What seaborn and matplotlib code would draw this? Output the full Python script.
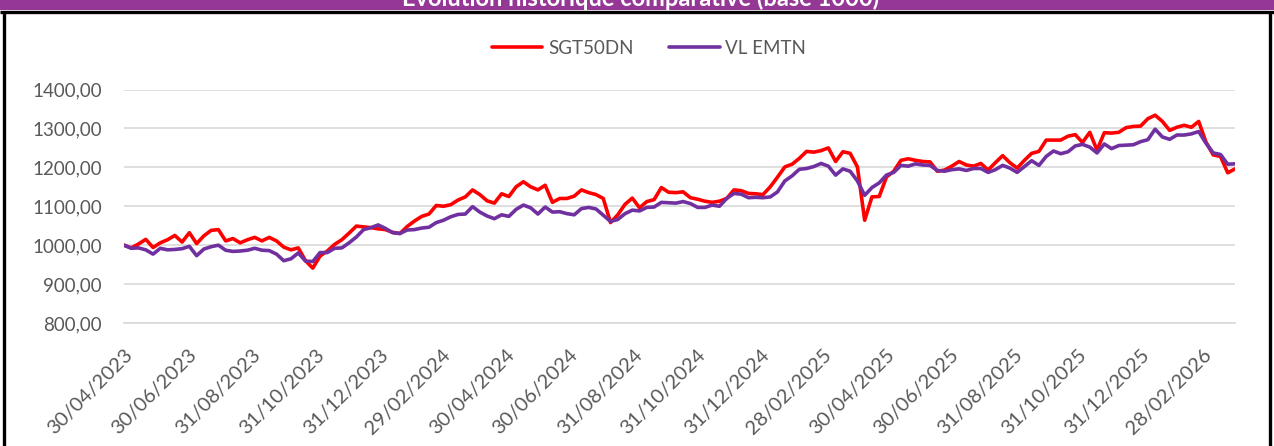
import numpy as np
import pandas as pd
import matplotlib
matplotlib.use("Agg")
import matplotlib.pyplot as plt
import matplotlib.dates as mdates
from matplotlib.ticker import FuncFormatter, MultipleLocator
from matplotlib.lines import Line2D
from matplotlib.patches import Rectangle
from matplotlib.transforms import ScaledTranslation
import seaborn as sns

# Weekly observations, base 1000 on 30/04/2023, last point 31/03/2026
start_date = "2023-04-30"
end_date = "2026-03-31"

sgt50dn = [
    1000, 993, 1003, 1015, 994, 1006, 1014, 1025, 1008, 1032,
    1004, 1024, 1038, 1040, 1011, 1017, 1006, 1014, 1020, 1011,
    1020, 1011, 995, 988, 993, 960, 941, 972, 985, 1002,
    1014, 1031, 1049, 1047, 1045, 1042, 1040, 1033, 1030, 1048,
    1062, 1074, 1080, 1102, 1100, 1104, 1116, 1124, 1142, 1130,
    1114, 1108, 1132, 1125, 1150, 1163, 1150, 1142, 1154, 1110,
    1120, 1120, 1126, 1142, 1135, 1130, 1120, 1058, 1078, 1105,
    1121, 1096, 1112, 1117, 1148, 1136, 1135, 1137, 1122, 1118,
    1113, 1110, 1113, 1120, 1142, 1140, 1133, 1132, 1130, 1150,
    1175, 1201, 1208, 1223, 1241, 1239, 1243, 1250, 1215, 1240,
    1236, 1201, 1064, 1124, 1125, 1175, 1190, 1218, 1222, 1218,
    1215, 1214, 1190, 1193, 1203, 1215, 1206, 1203, 1210, 1193,
    1212, 1230, 1212, 1198, 1218, 1236, 1241, 1270, 1270, 1270,
    1280, 1284, 1264, 1290, 1244, 1289, 1288, 1290, 1302, 1305,
    1306, 1325, 1334, 1318, 1295, 1303, 1308, 1303, 1318, 1265,
    1232, 1228, 1186, 1196,
]

vl_emtn = [
    1000, 992, 993, 988, 977, 992, 988, 989, 991, 997,
    973, 990, 996, 1000, 987, 984, 985, 987, 992, 987,
    986, 977, 960, 965, 980, 959, 958, 981, 981, 992,
    993, 1006, 1021, 1040, 1045, 1052, 1043, 1032, 1030, 1039,
    1040, 1044, 1046, 1058, 1064, 1073, 1079, 1080, 1099, 1085,
    1075, 1068, 1078, 1074, 1092, 1103, 1096, 1080, 1098, 1085,
    1086, 1081, 1078, 1094, 1097, 1093, 1077, 1061, 1066, 1081,
    1090, 1088, 1097, 1098, 1110, 1109, 1108, 1112, 1107, 1097,
    1097, 1103, 1100, 1120, 1133, 1131, 1122, 1123, 1122, 1124,
    1137, 1165, 1178, 1195, 1197, 1202, 1210, 1203, 1180, 1196,
    1190, 1165, 1128, 1148, 1160, 1180, 1187, 1205, 1203, 1209,
    1206, 1205, 1192, 1190, 1194, 1196, 1192, 1197, 1197, 1187,
    1194, 1205, 1198, 1187, 1202, 1217, 1205, 1228, 1242, 1235,
    1240, 1255, 1259, 1252, 1237, 1260, 1248, 1256, 1257, 1258,
    1266, 1271, 1298, 1278, 1272, 1283, 1283, 1286, 1292, 1262,
    1237, 1233, 1208, 1209,
]

series_names = ["SGT50DN", "VL EMTN"]
series_colors = ["#FF0000", "#7030A0"]

tick_dates = [
    "2023-04-30", "2023-06-30", "2023-08-31", "2023-10-31", "2023-12-31",
    "2024-02-29", "2024-04-30", "2024-06-30", "2024-08-31", "2024-10-31",
    "2024-12-31", "2025-02-28", "2025-04-30", "2025-06-30", "2025-08-31",
    "2025-10-31", "2025-12-31", "2026-02-28",
]

title = "Evolution historique comparative (base 1000)"

dates = pd.date_range(start_date, end_date, periods=len(sgt50dn))
df = pd.DataFrame({
    "Date": np.concatenate([dates, dates]),
    "Valeur": sgt50dn + vl_emtn,
    "Série": np.repeat(series_names, len(dates)),
})

sns.set_theme(style="white")
plt.rcParams["font.family"] = ["Lato", "DejaVu Sans"]

W, H = 1274, 446
TXT = "#595959"
GRID = "#D9D9D9"
FS = 13.5
LW = 2.6

fig = plt.figure(figsize=(W / 100, H / 100), dpi=100)
fig.patch.set_facecolor("white")

ax = fig.add_axes([124 / W, 1 - 323 / H, (1235 - 124) / W, (323 - 89.5) / H])
sns.lineplot(
    data=df, x="Date", y="Valeur", hue="Série",
    palette=dict(zip(series_names, series_colors)),
    linewidth=LW, ax=ax, legend=False,
)

ax.set_xlim(dates[0], dates[-1])
ax.set_ylim(800, 1400)
ax.set_xlabel("")
ax.set_ylabel("")

ax.yaxis.set_major_locator(MultipleLocator(100))
ax.yaxis.set_major_formatter(FuncFormatter(lambda v, p: f"{v:.2f}".replace(".", ",")))
ax.grid(axis="y", color=GRID, linewidth=1.2)
ax.set_axisbelow(True)

ax.set_xticks(pd.to_datetime(tick_dates))
ax.xaxis.set_major_formatter(mdates.DateFormatter("%d/%m/%Y"))

for side in ["left", "top", "right"]:
    ax.spines[side].set_visible(False)
ax.spines["bottom"].set_color(GRID)
ax.spines["bottom"].set_linewidth(1.2)

ax.tick_params(axis="y", length=0, pad=16, labelsize=FS, labelcolor=TXT)
ax.tick_params(axis="x", direction="out", length=5, width=1.1, color=GRID,
               pad=16, labelsize=14.5, labelcolor=TXT)

shift = ScaledTranslation(6 / 100, 0, fig.dpi_scale_trans)
for lbl in ax.get_xticklabels():
    lbl.set_rotation(45)
    lbl.set_ha("right")
    lbl.set_va("center")
    lbl.set_rotation_mode("anchor")
    lbl.set_transform(lbl.get_transform() + shift)

handles = [Line2D([], [], color=c, linewidth=LW) for c in series_colors]
fig.legend(
    handles, series_names, loc="center", bbox_to_anchor=(649 / W, 1 - 48 / H),
    ncol=2, frameon=False, handlelength=2.7, handletextpad=0.3,
    columnspacing=1.9, fontsize=FS, labelcolor=TXT,
)

# Header band with the chart title and the black frame below it
fig.add_artist(Rectangle((0, 1 - 10 / H), 1, 10 / H, transform=fig.transFigure,
                         facecolor="#953795", edgecolor="none", zorder=0))
fig.text(641 / W, 1 - 6.5 / H, title, ha="center", va="baseline", color="white",
         fontweight="bold", fontsize=17)
frame_kw = dict(transform=fig.transFigure, color="black", linewidth=2.4,
                solid_capstyle="butt")
fig.add_artist(Line2D([0, 1], [1 - 11.5 / H] * 2, **frame_kw))
fig.add_artist(Line2D([3.5 / W] * 2, [0, 1 - 11.5 / H], **frame_kw))
fig.add_artist(Line2D([1269.5 / W] * 2, [0, 1 - 11.5 / H], **frame_kw))

fig.savefig("out.png", dpi=100)
